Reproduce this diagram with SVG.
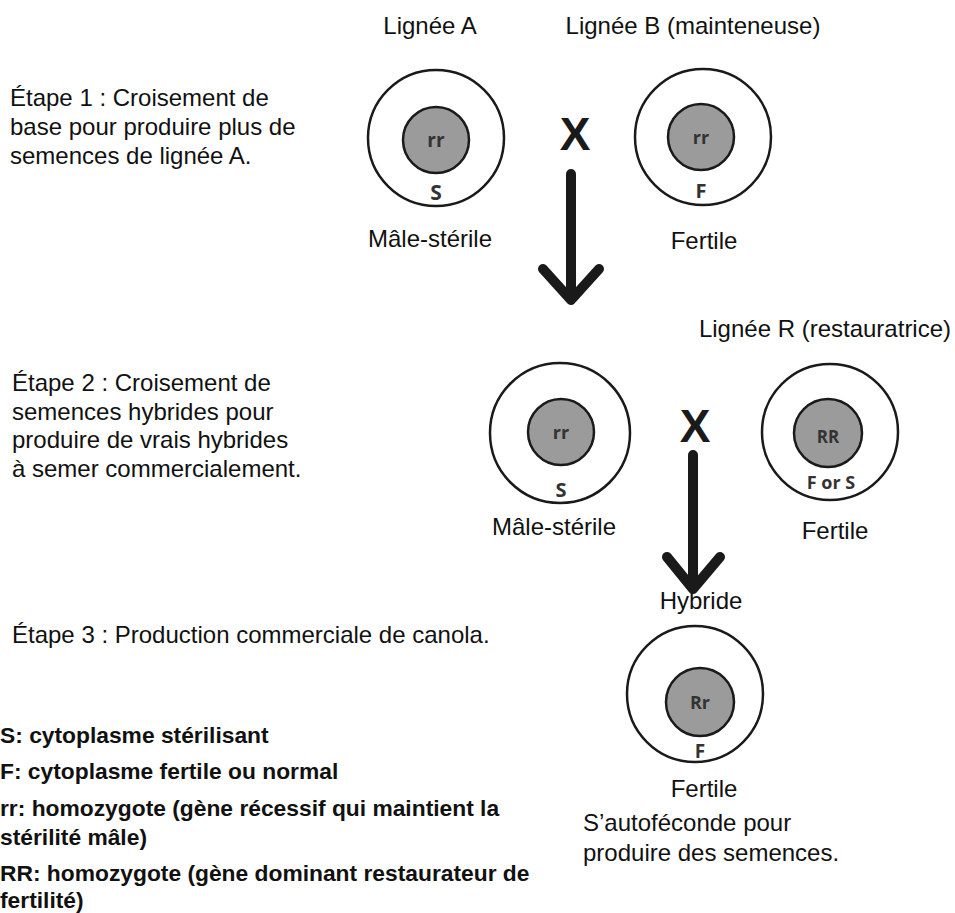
<svg xmlns="http://www.w3.org/2000/svg" width="955" height="913" viewBox="0 0 955 913">
<style>
.t{font-family:"Liberation Sans",Arial,sans-serif;font-size:24px;fill:#111}
.b{font-family:"Liberation Sans",Arial,sans-serif;font-size:22.8px;font-weight:bold;fill:#111}
.o{fill:#fff;stroke:#1a1a1a;stroke-width:2.5}
.i{fill:#9b9b9b;stroke:#1a1a1a;stroke-width:2.5}
.g{font-family:"Open Sans","DejaVu Sans Condensed",sans-serif;font-weight:bold;fill:#333;text-anchor:middle}
.x{font-family:"Liberation Sans",Arial,sans-serif;font-weight:bold;font-size:46px;fill:#1a1a1a;text-anchor:middle}
.a{fill:none;stroke:#1a1a1a;stroke-width:10;stroke-linecap:round;stroke-linejoin:round}
</style>
<rect width="955" height="913" fill="#fff"/>

<g id="labels-top">
<text class="t" x="430" y="34" text-anchor="middle">Lignée A</text>
<text class="t" x="693" y="34" text-anchor="middle">Lignée B (mainteneuse)</text>
</g>

<g id="step1">
<text class="t" x="10" y="106">Étape 1 : Croisement de</text>
<text class="t" x="10" y="135">base pour produire plus de</text>
<text class="t" x="10" y="164">semences de lignée A.</text>
</g>

<g id="cellA">
<circle class="o" cx="436" cy="138" r="68"/>
<circle class="i" cx="436" cy="140" r="33"/>
<text class="g" x="436" y="147" font-size="19">rr</text>
<text class="g" x="436" y="200" font-size="21">S</text>
<text class="t" x="430" y="247" text-anchor="middle">Mâle-stérile</text>
</g>

<g id="cellB">
<circle class="o" cx="703" cy="137" r="68"/>
<circle class="i" cx="701" cy="137" r="33"/>
<text class="g" x="701" y="144" font-size="18">rr</text>
<text class="g" x="701" y="198" font-size="20">F</text>
<text class="t" x="704" y="249" text-anchor="middle">Fertile</text>
</g>

<g id="cross1">
<text class="x" x="575" y="150">X</text>
</g>

<g id="labelR">
<text class="t" x="825" y="337" text-anchor="middle">Lignée R (restauratrice)</text>
</g>

<g id="step2">
<text class="t" x="12" y="391">Étape 2 : Croisement de</text>
<text class="t" x="12" y="420">semences hybrides pour</text>
<text class="t" x="12" y="448">produire de vrais hybrides</text>
<text class="t" x="12" y="477">à semer commercialement.</text>
</g>

<g id="cellA2">
<circle class="o" cx="560" cy="433" r="70"/>
<circle class="i" cx="561" cy="432" r="33"/>
<text class="g" x="561" y="439" font-size="18">rr</text>
<text class="g" x="561" y="497" font-size="20">S</text>
<text class="t" x="554" y="535" text-anchor="middle">Mâle-stérile</text>
</g>

<g id="cellR">
<circle class="o" cx="830" cy="432" r="68"/>
<circle class="i" cx="828" cy="433" r="34"/>
<text class="g" x="828" y="443" font-size="17">RR</text>
<text class="g" x="831" y="489" font-size="18">F or S</text>
<text class="t" x="835" y="539" text-anchor="middle">Fertile</text>
</g>

<g id="cross2">
<text class="x" x="695" y="442">X</text>
</g>

<g id="hybridLabel">
<text class="t" x="701" y="609" text-anchor="middle">Hybride</text>
</g>

<g id="step3">
<text class="t" x="12" y="643">Étape 3 : Production commerciale de canola.</text>
</g>

<g id="cellRr">
<circle class="o" cx="695" cy="694" r="68"/>
<circle class="i" cx="700" cy="702" r="34"/>
<text class="g" x="700" y="709" font-size="18">Rr</text>
<text class="g" x="700" y="758" font-size="19">F</text>
<text class="t" x="704" y="797" text-anchor="middle">Fertile</text>
<text class="t" x="583" y="831">S’autoféconde pour</text>
<text class="t" x="583" y="861">produire des semences.</text>
</g>

<g id="legend">
<text class="b" x="0" y="743">S: cytoplasme stérilisant</text>
<text class="b" x="0" y="779">F: cytoplasme fertile ou normal</text>
<text class="b" x="0" y="816">rr: homozygote (gène récessif qui maintient la</text>
<text class="b" x="0" y="845">stérilité mâle)</text>
<text class="b" x="0" y="881">RR: homozygote (gène dominant restaurateur de</text>
<text class="b" x="0" y="908">fertilité)</text>
</g>

<g id="connectors">
<path class="a" d="M571 174 V300 M543 269 L571 300 L599 269"/>
<path class="a" d="M693 455 V589 M667 557 L693 589 L720 557"/>
</g>
</svg>
